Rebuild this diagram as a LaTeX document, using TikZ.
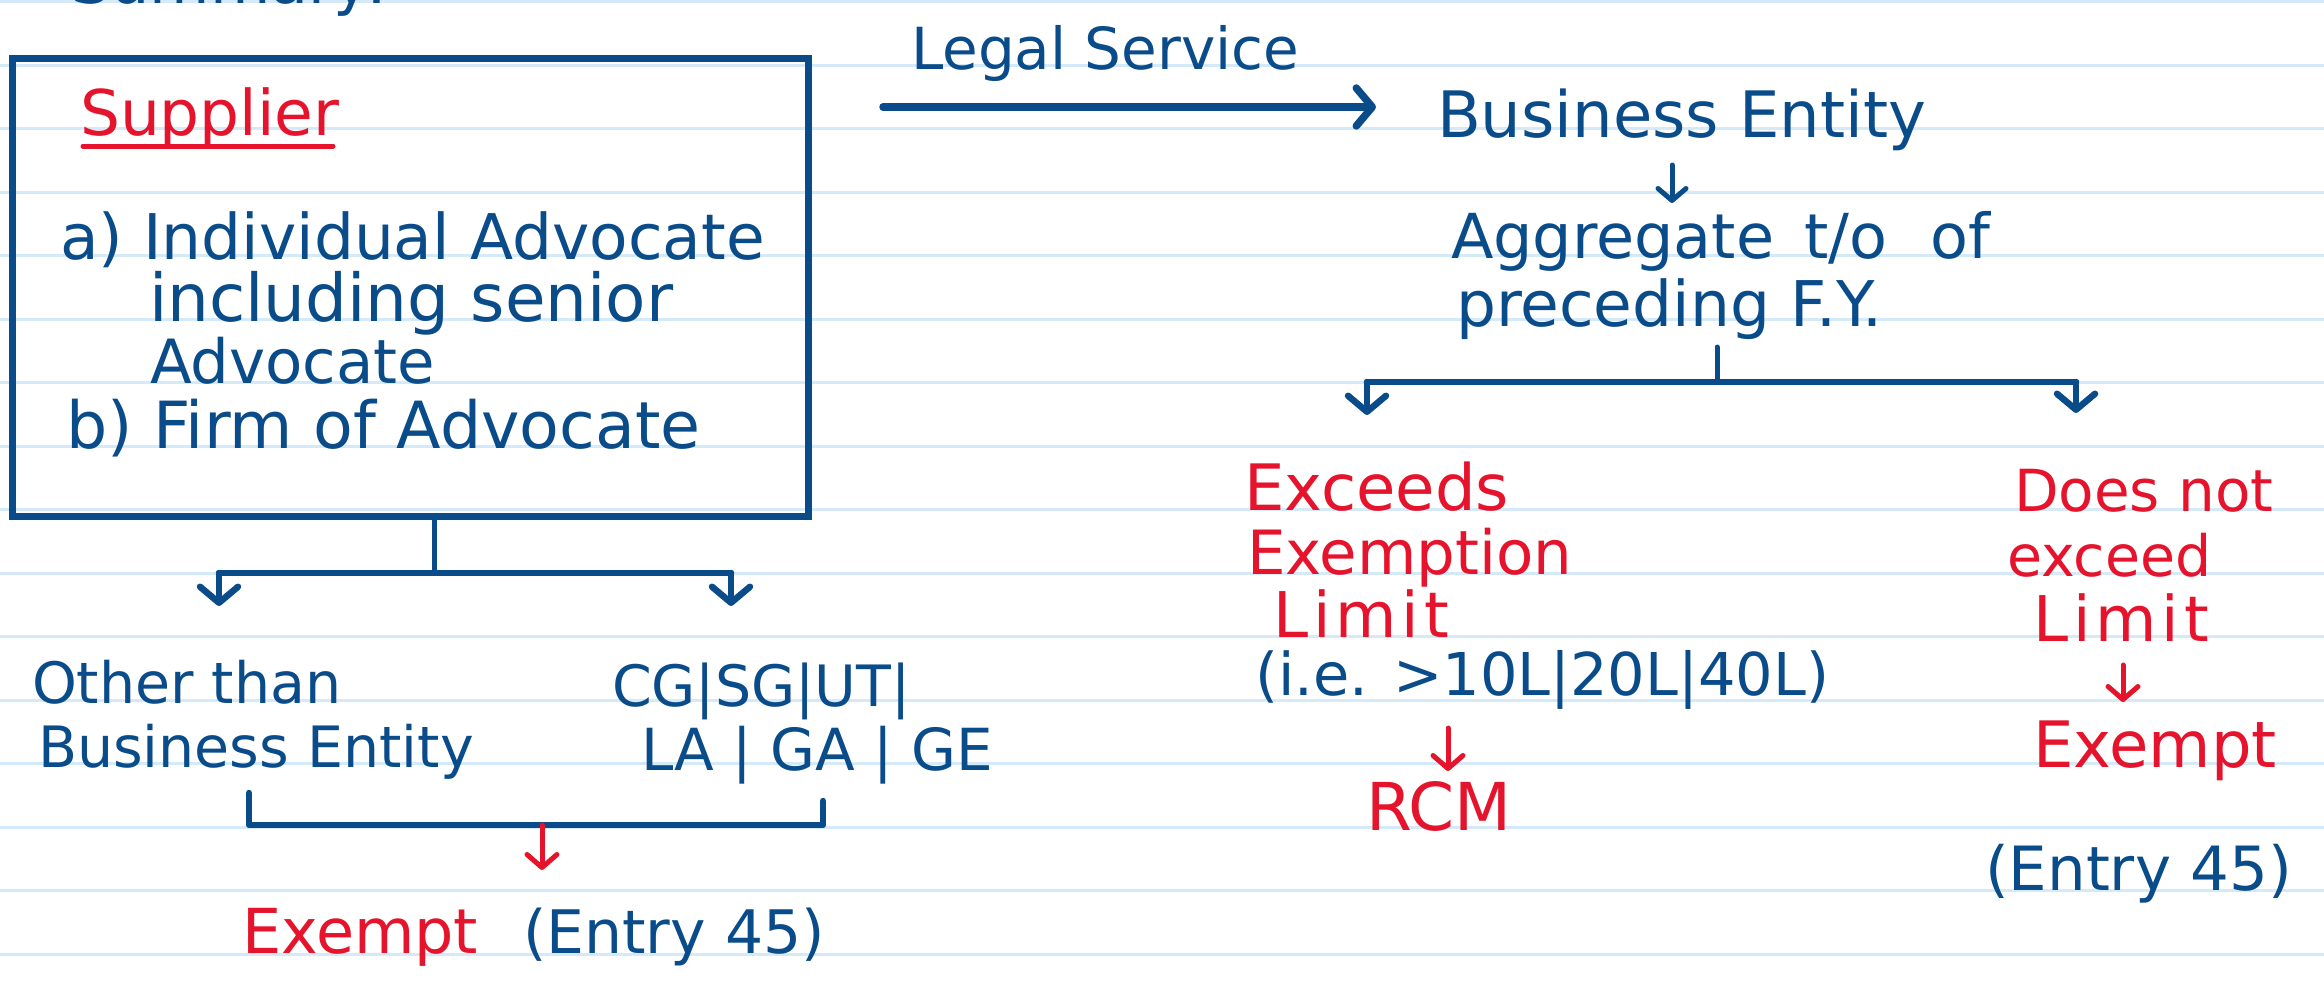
\documentclass[tikz,border=0pt]{standalone}
\usepackage{fontspec}
\setmainfont{DejaVu Sans}
\usetikzlibrary{arrows.meta,calc}
\definecolor{ink}{RGB}{10,76,138}
\definecolor{redink}{RGB}{229,19,43}
\definecolor{ruleline}{RGB}{212,234,248}
\newcommand\myfs[1]{\fontsize{#1}{#1}\selectfont}
\newcommand\lsp{\kern5pt}
\begin{document}
\begin{tikzpicture}[x=1pt,y=-1pt,
  txt/.style={inner sep=0pt, outer sep=0pt, anchor=base west, text=ink},
  rtxt/.style={txt, text=redink},
  conn/.style={draw=ink, line width=6.5pt, line cap=round, line join=round},
  stem/.style={draw=ink, line width=5pt, line cap=round},
  arr/.style={draw=ink, line width=6.5pt, line cap=round, -{Straight Barb[round,length=16pt,width=38pt]}},
  sarr/.style={draw=ink, line width=5pt, line cap=round, -{Straight Barb[round,length=12pt,width=28pt]}},
  rarr/.style={draw=redink, line width=5pt, line cap=round, -{Straight Barb[round,length=13pt,width=30pt]}},
  boxstyle/.style={draw=ink, line width=7pt, inner sep=0pt, minimum width=796pt, minimum height=457pt}]
\useasboundingbox (0,0) rectangle (2324,982);
\fill[white] (0,0) rectangle (2324,982);
\foreach \k in {0,...,15} \draw[ruleline, line width=3pt] (0,{1.9+63.5*\k}) -- (2324,{1.9+63.5*\k});

% cut-off heading at the top
\node[txt, font=\myfs{62}] (head) at (71,4) {Summary:};

% supplier box
\node[boxstyle] (box) at (410,287.5) {};
\node[rtxt, font=\myfs{63}] (supplier) at (80,135) {Supplier};
\coordinate (ul0) at (83,146);
\coordinate (ul1) at (333,146);
\draw[redink, line width=5pt, line cap=round] (ul0) -- (ul1);
\node[txt, font=\myfs{63}] (la) at (60,259) {a) Individual Advocate};
\node[txt, font=\myfs{66}] (lb) at (149,321) {including senior};
\node[txt, font=\myfs{61}] (lc) at (150,383) {Advocate};
\node[txt, font=\myfs{65}] (ld) at (66,448) {b) Firm of Advocate};

% left branches
\coordinate (sj) at (434,573);
\coordinate (sl) at (219,573);
\coordinate (sr) at (731,573);
\coordinate (slt) at (219,606);
\coordinate (srt) at (731,606);
\draw[stem] (box.south -| sj) -- (sj);
\draw[conn] (sl) -- (sr);
\draw[arr] (sl) -- (slt);
\draw[arr] (sr) -- (srt);

\node[txt, font=\myfs{57}] (ot1) at (32,703) {Other than};
\node[txt, font=\myfs{57}] (ot2) at (38,767) {Business Entity};
\node[txt, font=\myfs{57}] (cg1) at (612,706) {CG|SG|UT|};
\node[txt, font=\myfs{58}] (cg2) at (641,770) {LA | GA | GE};

% bracket joining both
\coordinate (bk1) at (249,793);
\coordinate (bk2) at (249,825);
\coordinate (bk3) at (823,825);
\coordinate (bk4) at (823,801);
\draw[conn] (bk1) -- (bk2) -- (bk3) -- (bk4);
\coordinate (bm) at (542,825);
\coordinate (bmt) at (542,870);
\draw[rarr] (bm) -- (bmt);
\node[rtxt, font=\myfs{62}] (ex1) at (242,953) {Exempt};
\node[txt, font=\myfs{60}] (en1) at (523,953) {(Entry 45)};

% right side
\node[txt, font=\myfs{58}] (legal) at (911,70) {Legal Service};
\coordinate (la0) at (883,107);
\coordinate (la1) at (1376,107);
\draw[arr, line width=7.5pt] (la0) -- (la1);
\node[txt, font=\myfs{64}] (be) at (1437,137) {Business Entity};
\coordinate (ba0) at (1672,165);
\coordinate (ba1) at (1672,203);
\draw[sarr] (ba0) -- (ba1);
\node[txt, font=\myfs{62}] (ag1) at (1451,258) {Aggregate\hspace{30pt}t/o\hspace{43pt}of};
\node[txt, font=\myfs{63}] (ag2) at (1456,326) {preceding F.Y.};
\coordinate (tk0) at (1717,347);
\coordinate (tk1) at (1717,380);
\draw[stem] (tk0) -- (tk1);
\coordinate (rl) at (1367,382);
\coordinate (rr) at (2076,382);
\coordinate (rlt) at (1367,415);
\coordinate (rrt) at (2076,413);
\draw[conn] (rl) -- (rr);
\draw[arr] (rl) -- (rlt);
\draw[arr] (rr) -- (rrt);

\node[rtxt, font=\myfs{64}] (e1) at (1244,510) {Exceeds};
\node[rtxt, font=\myfs{61}] (e2) at (1247,574) {Exemption};
\node[rtxt, font=\myfs{63}] (e3) at (1273,637) {L\lsp i\lsp m\lsp i\lsp t};
\node[txt, font=\myfs{59}] (e4) at (1255,695) {(i.e. >10L|20L|40L)};
\coordinate (ra0) at (1448,728);
\coordinate (ra1) at (1448,771);
\draw[rarr] (ra0) -- (ra1);
\node[rtxt, font=\myfs{66}] (rcm) at (1366,830) {RCM};

\node[rtxt, font=\myfs{58}] (d1) at (2014,511) {Does not};
\node[rtxt, font=\myfs{57}] (d2) at (2007,576) {exceed};
\node[rtxt, font=\myfs{63}] (d3) at (2033,641) {L\lsp i\lsp m\lsp i\lsp t};
\coordinate (da0) at (2123,665);
\coordinate (da1) at (2123,702);
\draw[rarr] (da0) -- (da1);
\node[rtxt, font=\myfs{64}] (ex2) at (2033,767) {Exempt};
\node[txt, font=\myfs{61}] (en2) at (1985,890) {(Entry 45)};
\end{tikzpicture}
\end{document}
